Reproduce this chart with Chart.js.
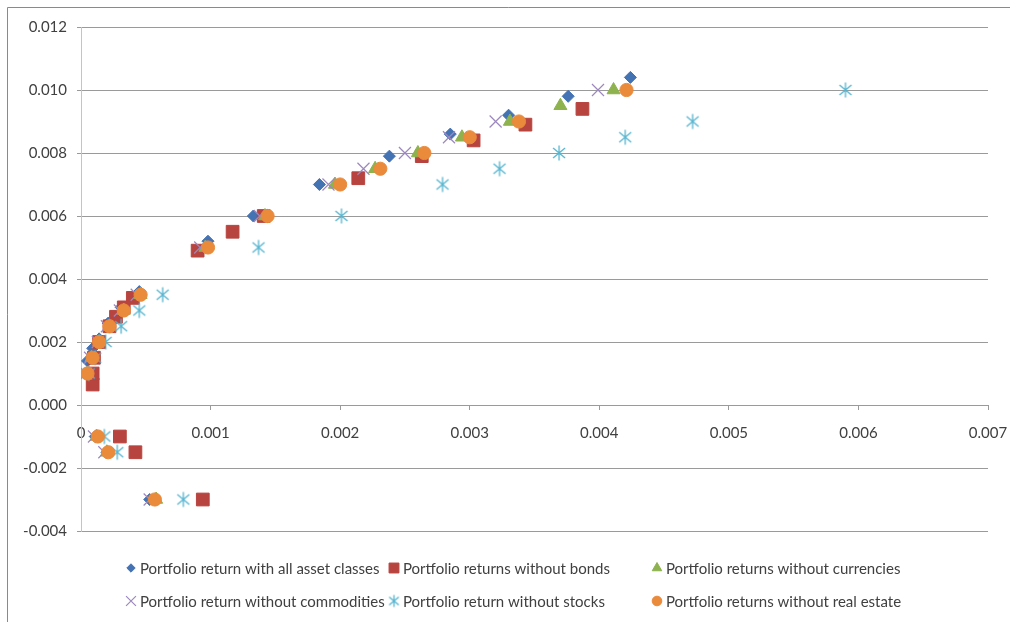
<!DOCTYPE html>
<html>
<head>
<meta charset="utf-8">
<title>Portfolio frontiers</title>
<script src="https://cdn.jsdelivr.net/npm/chart.js@4.4.0/dist/chart.umd.min.js"></script>
<style>
  html, body { margin: 0; padding: 0; background: #fff; }
  #wrap { position: relative; width: 1010px; height: 622px; }
</style>
</head>
<body>
<div id="wrap"><canvas id="frontier"></canvas></div>
<script>
// ── Series data: risk (x) and return (y) per portfolio ────────────────
var seriesNames = [
  'Portfolio return with all asset classes',
  'Portfolio returns without bonds',
  'Portfolio returns without currencies',
  'Portfolio return without commodities',
  'Portfolio return without stocks',
  'Portfolio returns without real estate'
];

var allRisk = [0.00053, 0.00020, 0.00011, 0.00004, 0.00005, 0.00009, 0.00014, 0.00021, 0.00031, 0.00045, 0.00098, 0.00133, 0.00184, 0.00238, 0.00285, 0.00330, 0.00376, 0.00424];
var allReturn = [-0.0030, -0.0015, -0.0010, 0.0010, 0.0014, 0.0018, 0.0021, 0.0026, 0.0031, 0.0036, 0.0052, 0.0060, 0.0070, 0.0079, 0.0086, 0.0092, 0.0098, 0.0104];

var noBondsRisk = [0.00094, 0.00042, 0.00030, 0.00009, 0.00009, 0.00010, 0.00014, 0.00022, 0.00027, 0.00033, 0.00040, 0.00090, 0.00117, 0.00141, 0.00214, 0.00263, 0.00303, 0.00343, 0.00387];
var noBondsReturn = [-0.0030, -0.0015, -0.0010, 0.00065, 0.0010, 0.0015, 0.0020, 0.0025, 0.0028, 0.0031, 0.0034, 0.0049, 0.0055, 0.0060, 0.0072, 0.0079, 0.0084, 0.0089, 0.0094];

var noCurrRisk = [0.00058, 0.00020, 0.00012, 0.00005, 0.00008, 0.00014, 0.00022, 0.00033, 0.00046, 0.00096, 0.00142, 0.00196, 0.00227, 0.00260, 0.00294, 0.00331, 0.00370, 0.00411];
var noCurrReturn = [-0.0030, -0.0015, -0.0010, 0.0010, 0.0015, 0.0020, 0.0025, 0.0030, 0.0035, 0.0050, 0.0060, 0.0070, 0.0075, 0.0080, 0.0085, 0.0090, 0.0095, 0.0100];

var noCommRisk = [0.00053, 0.00018, 0.00010, 0.00004, 0.00007, 0.00013, 0.00020, 0.00030, 0.00043, 0.00092, 0.00138, 0.00191, 0.00218, 0.00250, 0.00284, 0.00320, 0.00399];
var noCommReturn = [-0.0030, -0.0015, -0.0010, 0.0010, 0.0015, 0.0020, 0.0025, 0.0030, 0.0035, 0.0050, 0.0060, 0.0070, 0.0075, 0.0080, 0.0085, 0.0090, 0.0100];

var noStocksRisk = [0.00079, 0.00028, 0.00018, 0.00006, 0.00011, 0.00019, 0.00031, 0.00045, 0.00063, 0.00137, 0.00201, 0.00279, 0.00323, 0.00369, 0.00420, 0.00472, 0.00590];
var noStocksReturn = [-0.0030, -0.0015, -0.0010, 0.0010, 0.0015, 0.0020, 0.0025, 0.0030, 0.0035, 0.0050, 0.0060, 0.0070, 0.0075, 0.0080, 0.0085, 0.0090, 0.0100];

var noRealRisk = [0.00057, 0.00021, 0.00013, 0.00005, 0.00009, 0.00014, 0.00022, 0.00033, 0.00046, 0.00098, 0.00144, 0.00200, 0.00231, 0.00265, 0.00300, 0.00338, 0.00421];
var noRealReturn = [-0.0030, -0.0015, -0.0010, 0.0010, 0.0015, 0.0020, 0.0025, 0.0030, 0.0035, 0.0050, 0.0060, 0.0070, 0.0075, 0.0080, 0.0085, 0.0090, 0.0100];

var xTicks = [0, 0.001, 0.002, 0.003, 0.004, 0.005, 0.006, 0.007];
var yTicks = [-0.004, -0.002, 0, 0.002, 0.004, 0.006, 0.008, 0.010, 0.012];

// ── Helpers ──────────────────────────────────────────────────────────
function zip(xs, ys) {
  return xs.map(function (x, i) { return { x: x, y: ys[i] }; });
}

// Six-armed asterisk marker (vertical bar + X), drawn once to a canvas
function makeAsterisk(color, scale) {
  var s = scale || 1;
  var size = Math.ceil(18 * s);
  var c = document.createElement('canvas');
  c.width = size; c.height = size;
  var g = c.getContext('2d');
  var m = size / 2;
  g.strokeStyle = color;
  g.lineWidth = 1.3;
  g.beginPath();
  g.moveTo(m, m - 7.5 * s); g.lineTo(m, m + 7.5 * s);
  g.moveTo(m - 6 * s, m - 5 * s); g.lineTo(m + 6 * s, m + 5 * s);
  g.moveTo(m + 6 * s, m - 5 * s); g.lineTo(m - 6 * s, m + 5 * s);
  g.stroke();
  return c;
}

var FONT = 'Lato, "Open Sans", sans-serif';
var TEXT = '#404040';

var styles = [
  { pointStyle: 'rectRot',  radius: 6,   legendRadius: 4.2, color: '#4473B4' },
  { pointStyle: 'rect',     radius: 9,   legendRadius: 7,   color: '#B8443F' },
  { pointStyle: 'triangle', radius: 7.5, legendRadius: 5.5, color: '#8DB24E' },
  { pointStyle: 'crossRot', radius: 8.5, legendRadius: 7,   color: '#9C88BE', line: 1.2 },
  { pointStyle: makeAsterisk('#55B4CF'), legendStyle: makeAsterisk('#55B4CF', 0.8), radius: 8, legendRadius: 6, color: '#55B4CF' },
  { pointStyle: 'circle',   radius: 6.6, legendRadius: 4.8, color: '#EA8A3B' }
];

var seriesData = [
  zip(allRisk, allReturn),
  zip(noBondsRisk, noBondsReturn),
  zip(noCurrRisk, noCurrReturn),
  zip(noCommRisk, noCommReturn),
  zip(noStocksRisk, noStocksReturn),
  zip(noRealRisk, noRealReturn)
];

// ── Plugins: outer frame and a three-column legend under the plot ────
var framePlugin = {
  id: 'frame',
  beforeDraw: function (chart) {
    var ctx = chart.ctx;
    ctx.save();
    ctx.fillStyle = '#ffffff';
    ctx.fillRect(0, 0, chart.width, chart.height);
    ctx.strokeStyle = '#8a8a8a';
    ctx.lineWidth = 1;
    ctx.beginPath();
    ctx.moveTo(7.5, chart.height);
    ctx.lineTo(7.5, 7.5);
    ctx.lineTo(chart.width, 7.5);
    ctx.stroke();
    ctx.restore();
  }
};

var gridLegendPlugin = {
  id: 'gridLegend',
  afterDraw: function (chart, _args, opts) {
    var ctx = chart.ctx;
    ctx.save();
    ctx.font = opts.font;
    ctx.textBaseline = 'middle';
    ctx.textAlign = 'left';
    chart.data.datasets.forEach(function (ds, i) {
      var col = i % opts.columns.length;
      var row = Math.floor(i / opts.columns.length);
      var x = opts.columns[col];
      var y = opts.rows[row];
      var st = styles[i];
      ctx.save();
      ctx.fillStyle = st.color;
      ctx.strokeStyle = st.color;
      ctx.lineWidth = st.line || 1;
      Chart.helpers.drawPoint(ctx, {
        pointStyle: st.legendStyle || st.pointStyle,
        radius: st.legendRadius,
        rotation: 0,
        borderWidth: st.line || 1
      }, x, y);
      ctx.restore();
      ctx.fillStyle = TEXT;
      ctx.fillText(ds.label, x + 9, y + 1);
    });
    ctx.restore();
  }
};

// ── Chart ────────────────────────────────────────────────────────────
var canvas = document.getElementById('frontier');
var chart = new Chart(canvas, {
  type: 'scatter',
  data: {
    datasets: seriesData.map(function (pts, i) {
      var st = styles[i];
      return {
        label: seriesNames[i],
        data: pts,
        pointStyle: st.pointStyle,
        pointRadius: st.radius,
        pointBackgroundColor: st.color,
        pointBorderColor: st.color,
        pointBorderWidth: st.line || 1,
        order: seriesData.length - i
      };
    })
  },
  options: {
    responsive: true,
    maintainAspectRatio: false,
    animation: false,
    layout: { padding: { left: 0, top: 27, right: 22, bottom: 91 } },
    plugins: {
      legend: { display: false },
      tooltip: { enabled: false },
      gridLegend: {
        font: '15px ' + FONT,
        columns: [131, 394, 657],
        rows: [568, 601]
      }
    },
    scales: {
      x: {
        type: 'linear',
        position: { y: 0 },
        min: xTicks[0],
        max: xTicks[xTicks.length - 1],
        afterBuildTicks: function (scale) {
          scale.ticks = xTicks.map(function (v) { return { value: v }; });
        },
        // the end labels may hang past the plot edge, as the layout allows
        afterFit: function (scale) { scale.paddingLeft = 0; scale.paddingRight = 0; },
        ticks: {
          color: TEXT,
          font: { family: FONT, size: 15 },
          padding: 15,
          maxRotation: 0,
          callback: function (v) { return v === 0 ? '0' : Number(v).toFixed(3); }
        },
        grid: { drawOnChartArea: false, drawTicks: true, tickLength: 4, color: '#9a9a9a' },
        border: { display: true, color: '#9a9a9a' }
      },
      y: {
        type: 'linear',
        min: yTicks[0],
        max: yTicks[yTicks.length - 1],
        afterBuildTicks: function (scale) {
          scale.ticks = yTicks.map(function (v) { return { value: v }; });
        },
        afterFit: function (scale) { scale.width = 81; scale.paddingTop = 0; scale.paddingBottom = 0; },
        ticks: {
          color: TEXT,
          font: { family: FONT, size: 15 },
          padding: 10,
          callback: function (v) { return Number(v).toFixed(3); }
        },
        grid: { color: '#9a9a9a', tickLength: 4, drawTicks: true },
        border: { display: true, color: '#c4c4c4' }
      }
    }
  },
  plugins: [framePlugin, gridLegendPlugin]
});
</script>
</body>
</html>
